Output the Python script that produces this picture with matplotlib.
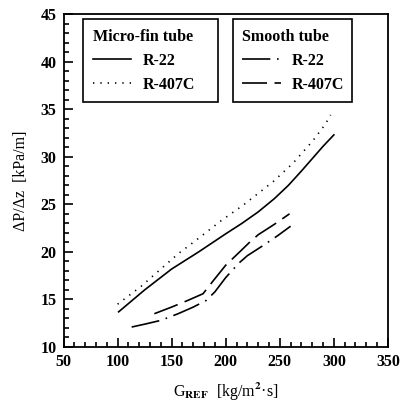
import matplotlib
matplotlib.use("Agg")
import matplotlib.pyplot as plt

plt.rcParams['font.family'] = ['Liberation Serif', 'DejaVu Serif']
plt.rcParams['font.weight'] = 'bold'
plt.rcParams['mathtext.fontset'] = 'stix'

# micro-fin tube
mf_r22_x = [101, 125, 150, 175, 200, 215, 230, 245, 258, 270, 280, 290, 300]
mf_r22_y = [13.7, 16.0, 18.2, 20.0, 21.9, 23.0, 24.2, 25.6, 27.0, 28.5, 29.8, 31.1, 32.3]
mf_r407c_x = [100, 122, 136, 156, 170, 196, 216, 244, 262, 280, 292, 297]
mf_r407c_y = [14.5, 16.4, 17.8, 19.8, 21.0, 23.3, 24.9, 27.4, 29.3, 31.6, 33.4, 34.4]

# smooth tube
sm_r22_x = [113, 125, 140, 156, 170, 182, 190, 200, 212, 220, 235, 248, 260]
sm_r22_y = [12.1, 12.4, 12.8, 13.5, 14.2, 14.9, 15.8, 17.3, 18.8, 19.6, 20.7, 21.7, 22.7]
sm_r407c_x = [134, 150, 165, 179, 188, 200, 212, 222, 230, 245, 259]
sm_r407c_y = [13.5, 14.2, 14.9, 15.6, 16.9, 18.6, 19.9, 21.0, 21.8, 22.9, 24.0]

x_ticks = [50, 100, 150, 200, 250, 300, 350]
y_ticks = [10, 15, 20, 25, 30, 35, 40, 45]

fig = plt.figure(figsize=(4.03, 4.07), dpi=100)
ax = fig.add_axes([0.1576, 0.1474, 0.805, 0.818])

lw = 1.2
dotted = (0, (0.8, 3.6))
dashed = (0, (15, 4.5))
dashdot = (0, (17, 4, 1, 4))

l1, = ax.plot(mf_r22_x, mf_r22_y, color='k', lw=lw, ls='-')
l2, = ax.plot(mf_r407c_x, mf_r407c_y, color='k', lw=lw, ls=dotted)
l3, = ax.plot(sm_r22_x, sm_r22_y, color='k', lw=lw, ls=dashdot)
l4, = ax.plot(sm_r407c_x, sm_r407c_y, color='k', lw=lw, ls=dashed)

ax.set_xlim(50, 350)
ax.set_ylim(10, 45)
ax.set_xticks(x_ticks)
ax.set_yticks(y_ticks)
ax.set_xticks(range(50, 351, 10), minor=True)
ax.set_yticks(range(10, 46, 1), minor=True)
ax.tick_params(which='both', direction='in', top=False, right=False, width=1.2)
ax.tick_params(which='major', length=6.5, labelsize=11.5, pad=5)
ax.tick_params(which='minor', length=3.5)
for s in ax.spines.values():
    s.set_linewidth(1.3)

ax.set_xlabel(r'G$_{\mathbf{REF}}$  [kg/m$^{\mathbf{2}}$' + '·s]', fontsize=11.5, labelpad=8)
ax.set_ylabel('ΔP/Δz  [kPa/m]', fontsize=11.5, labelpad=8)

leg_kw = dict(loc='upper left', mode='expand', frameon=True, fancybox=False,
              edgecolor='k', framealpha=1, fontsize=11.5, title_fontsize=11.5,
              handlelength=2.4, handletextpad=0.7, borderaxespad=0,
              labelspacing=0.5, alignment='left', borderpad=0.6)
leg1 = ax.legend([l1, l2], ['R-22', 'R-407C'], title='Micro-fin tube',
                 bbox_to_anchor=(0.061, 0.985, 0.415, 0), **leg_kw)
leg1.get_frame().set_linewidth(1.2)
ax.add_artist(leg1)
leg2 = ax.legend([l3, l4], ['R-22', 'R-407C'], title='Smooth tube',
                 bbox_to_anchor=(0.522, 0.985, 0.367, 0), **leg_kw)
leg2.get_frame().set_linewidth(1.2)

fig.savefig('out.png', dpi=100)
